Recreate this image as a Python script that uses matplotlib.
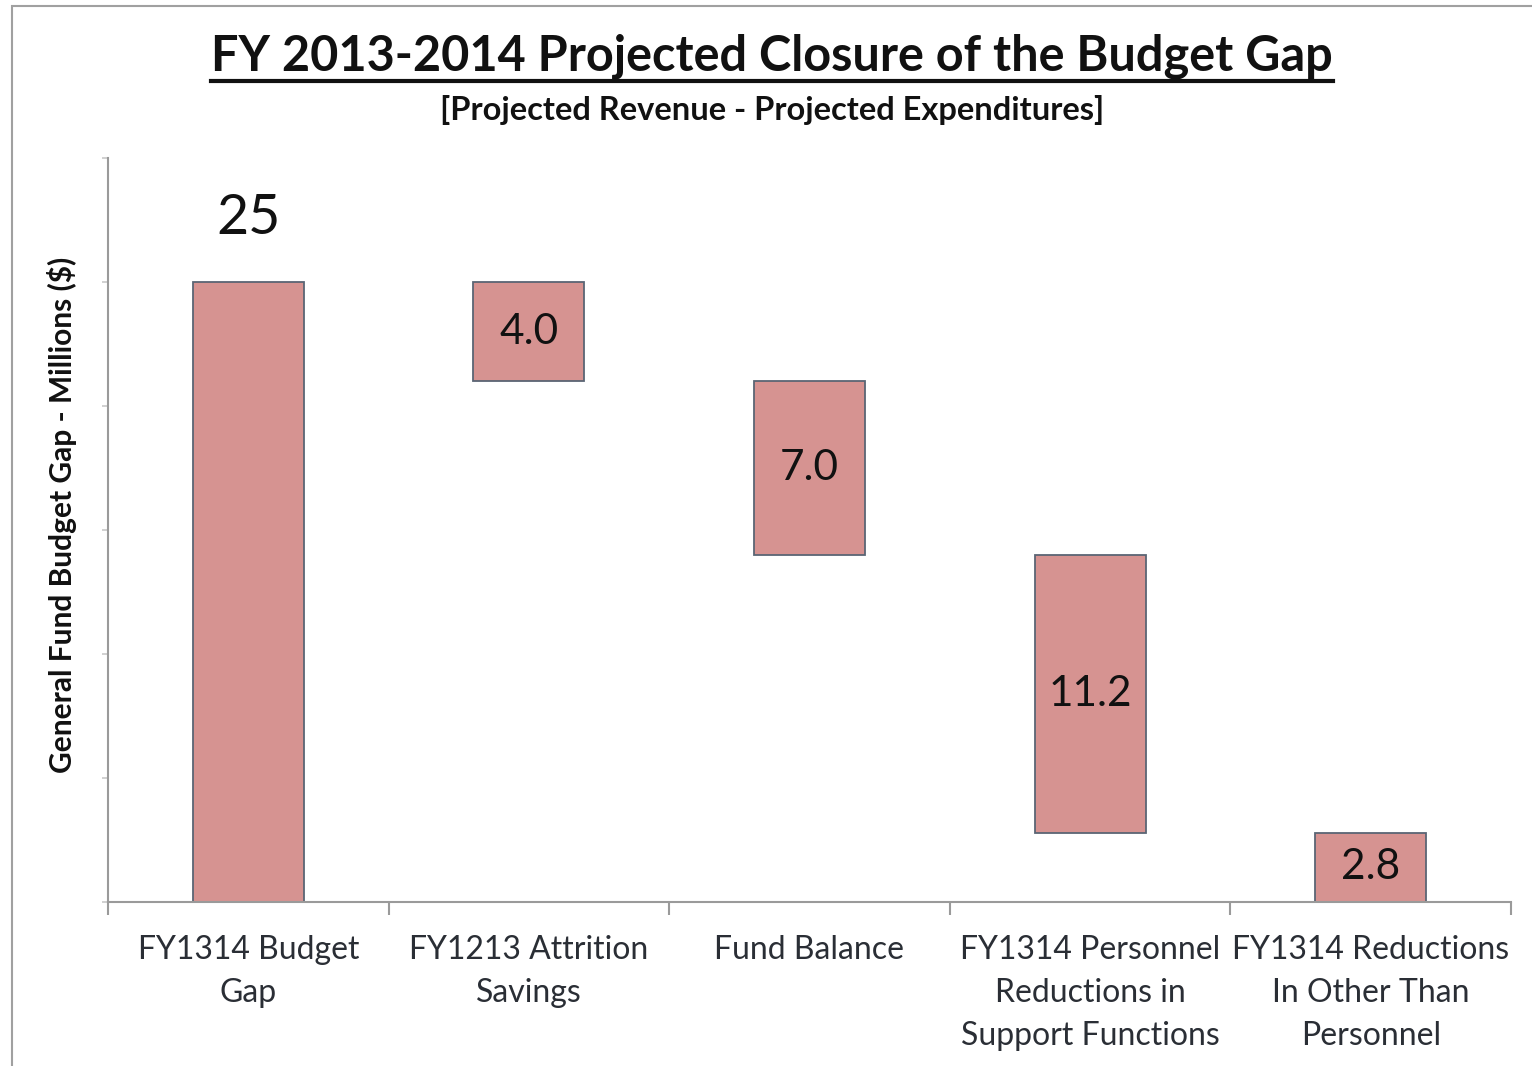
import matplotlib
matplotlib.use("Agg")
import matplotlib.pyplot as plt
from matplotlib.lines import Line2D
from matplotlib.patches import Rectangle
import numpy as np

categories = ["FY1314 Budget\nGap", "FY1213 Attrition\nSavings", "Fund Balance",
              "FY1314 Personnel\nReductions in\nSupport Functions",
              "FY1314 Reductions\nIn Other Than\nPersonnel"]
values = [25.0, 4.0, 7.0, 11.2, 2.8]
value_labels = ["25", "4.0", "7.0", "11.2", "2.8"]
title = "FY 2013-2014 Projected Closure of the Budget Gap"
subtitle = "[Projected Revenue - Projected Expenditures]"
ylabel = "General Fund Budget Gap - Millions ($)"

plt.rcParams['font.family'] = ['Lato', 'DejaVu Sans']

W, H = 1532, 1066
fig = plt.figure(figsize=(W / 100, H / 100), dpi=100)
ax = fig.add_axes([108 / W, 1 - 902 / H, (1511 - 108) / W, (902 - 158) / H])

# waterfall bottoms
bottoms = [0.0]
level = values[0]
for v in values[1:]:
    level -= v
    bottoms.append(level)
x = np.arange(len(values))
fill = "#D69391"
edge = "#5A6574"
ax.bar(x, values, bottom=bottoms, width=0.395, color=fill, edgecolor=edge, linewidth=1.3)

for i, (v, b, lab) in enumerate(zip(values, bottoms, value_labels)):
    if i == 0:
        ax.text(i, b + v + 2.55, lab, ha="center", va="center", fontsize=40, color="#111111")
    else:
        ax.text(i, b + v / 2, lab, ha="center", va="center", fontsize=30.5, color="#111111")

ax.set_xlim(-0.5, len(values) - 0.5)
ax.set_ylim(0, 30)
ax.set_yticks(np.arange(0, 31, 5))
ax.set_yticklabels([])
ax.set_xticks(np.arange(-0.5, len(values), 1.0))
ax.set_xticklabels([])
ax.tick_params(axis="x", direction="out", length=9, width=1.5, color="#9a9a9a")
ax.tick_params(axis="y", direction="out", length=4, width=1.2, color="#c8c8c8")
for s in ["top", "right"]:
    ax.spines[s].set_visible(False)
ax.spines["left"].set_color("#9a9a9a")
ax.spines["left"].set_linewidth(1.5)
ax.spines["bottom"].set_color("#9a9a9a")
ax.spines["bottom"].set_linewidth(1.5)

for i, c in enumerate(categories):
    ax.text(i, -1.33, c, ha="center", va="top", fontsize=23, color="#2a2e35",
            linespacing=1.55, transform=ax.transData)

fig.text(62 / W, 1 - 515 / H, ylabel, rotation=90, ha="center", va="center",
         fontsize=21.5, fontweight="bold", color="#111111")

t = fig.text(772 / W, 1 - 56 / H, title, ha="center", va="center",
             fontsize=35, fontweight="bold", color="#111111")
fig.text(772 / W, 1 - 110 / H, subtitle, ha="center", va="center",
         fontsize=23.5, fontweight="bold", color="#111111")

fig.canvas.draw()
bb = t.get_window_extent()
uy = 1 - 81 / H
fig.add_artist(Line2D([bb.x0 / W, bb.x1 / W], [uy, uy], color="#111111", linewidth=3,
                      transform=fig.transFigure))

# frame border
fig.add_artist(Rectangle((12 / W, -0.05), 1.2, 1 - 6 / H + 0.05, transform=fig.transFigure,
                         fill=False, edgecolor="#a0a0a0", linewidth=1.5))

fig.savefig("out.png", dpi=100)
